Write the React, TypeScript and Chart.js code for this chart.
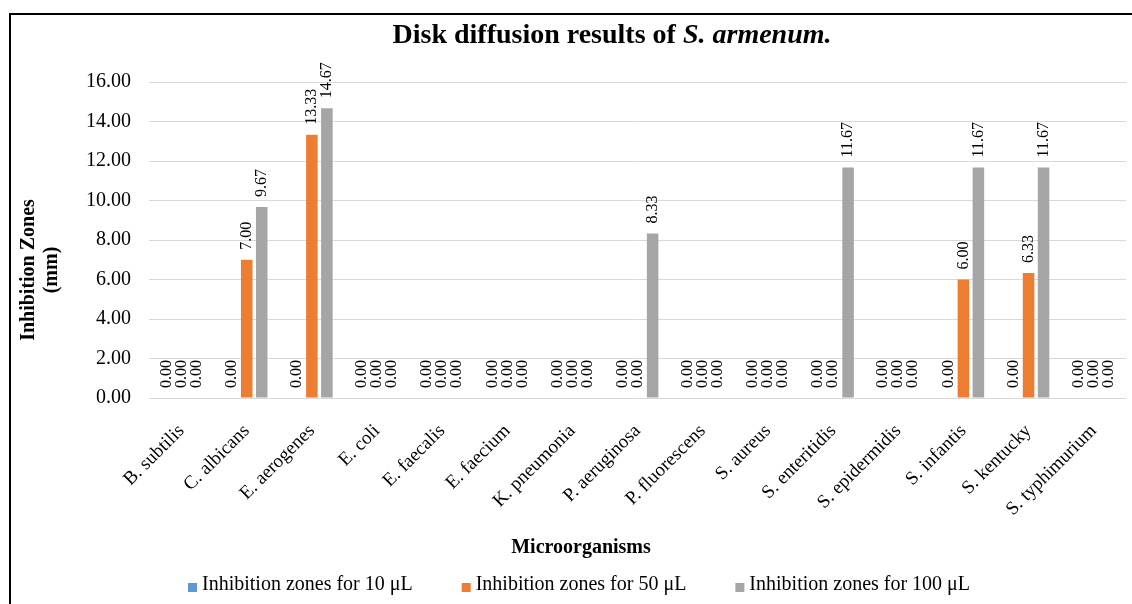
import React, { useEffect, useRef } from "react";
import { Chart, registerables } from "chart.js";

Chart.register(...registerables);

// Categories and series
const organisms = [
  "B. subtilis",
  "C. albicans",
  "E. aerogenes",
  "E. coli",
  "E. faecalis",
  "E. faecium",
  "K. pneumonia",
  "P. aeruginosa",
  "P. fluorescens",
  "S. aureus",
  "S. enteritidis",
  "S. epidermidis",
  "S. infantis",
  "S. kentucky",
  "S. typhimurium",
];
const zones10 = [0, 0, 0, 0, 0, 0, 0, 0, 0, 0, 0, 0, 0, 0, 0];
const zones50 = [0, 7.0, 13.33, 0, 0, 0, 0, 0, 0, 0, 0, 0, 6.0, 6.33, 0];
const zones100 = [0, 9.67, 14.67, 0, 0, 0, 0, 8.33, 0, 0, 11.67, 0, 11.67, 11.67, 0];

const seriesLabels = [
  "Inhibition zones for 10 μL",
  "Inhibition zones for 50 μL",
  "Inhibition zones for 100 μL",
];
const seriesColors = ["#5b9bd5", "#ed7d31", "#a5a5a5"];

const yMin = 0;
const yMax = 16;
const yStep = 2;

const titlePlain = "Disk diffusion results of ";
const titleItalic = "S. armenum.";
const yTitleLines = ["Inhibition Zones", "(mm)"];
const xTitle = "Microorganisms";

const SERIF = "'Liberation Serif', 'Times New Roman', serif";

// Rotated value labels above every bar
const valueLabelPlugin = {
  id: "valueLabels",
  afterDatasetsDraw(chart: any) {
    const ctx = chart.ctx;
    ctx.save();
    ctx.font = `16px ${SERIF}`;
    ctx.fillStyle = "#000";
    ctx.textAlign = "left";
    ctx.textBaseline = "middle";
    chart.data.datasets.forEach((ds: any, d: number) => {
      const meta = chart.getDatasetMeta(d);
      meta.data.forEach((bar: any, i: number) => {
        const v = ds.data[i] as number;
        ctx.save();
        ctx.translate(bar.x, bar.y - 10);
        ctx.rotate(-Math.PI / 2);
        ctx.fillText(v.toFixed(2), 0, 0);
        ctx.restore();
      });
    });
    ctx.restore();
  },
};

// Chart title (mixed roman / italic), axis titles and legend
const annotationsPlugin = {
  id: "annotations",
  afterDraw(chart: any) {
    const ctx = chart.ctx;
    ctx.save();
    ctx.fillStyle = "#000";

    // title
    const plainFont = `bold 28px ${SERIF}`;
    const italicFont = `italic bold 28px ${SERIF}`;
    ctx.font = plainFont;
    const w1 = ctx.measureText(titlePlain).width;
    ctx.font = italicFont;
    const w2 = ctx.measureText(titleItalic).width;
    const startX = 612 - (w1 + w2) / 2;
    ctx.textBaseline = "middle";
    ctx.textAlign = "left";
    ctx.font = plainFont;
    ctx.fillText(titlePlain, startX, 36);
    ctx.font = italicFont;
    ctx.fillText(titleItalic, startX + w1, 36);

    // y axis title
    ctx.font = `bold 20px ${SERIF}`;
    ctx.textAlign = "center";
    ctx.save();
    ctx.translate(29, 270);
    ctx.rotate(-Math.PI / 2);
    ctx.fillText(yTitleLines[0], 0, 0);
    ctx.fillText(yTitleLines[1], 0, 23);
    ctx.restore();

    // x axis title
    ctx.fillText(xTitle, 581, 548);

    // legend
    ctx.font = `20px ${SERIF}`;
    ctx.textAlign = "left";
    let x = 188;
    chart.data.datasets.forEach((ds: any) => {
      ctx.fillStyle = ds.backgroundColor;
      ctx.fillRect(x, 583, 9, 9);
      ctx.fillStyle = "#000";
      ctx.fillText(ds.label, x + 14, 585);
      x += 14 + ctx.measureText(ds.label).width + 49;
    });

    ctx.restore();
  },
};

export default function App() {
  const canvasRef = useRef<HTMLCanvasElement>(null);

  useEffect(() => {
    const canvas = canvasRef.current;
    if (!canvas) return;
    const series = [zones10, zones50, zones100];
    const chart = new Chart(canvas, {
      type: "bar",
      data: {
        labels: organisms,
        datasets: series.map((values, i) => ({
          label: seriesLabels[i],
          data: values,
          backgroundColor: seriesColors[i],
          borderWidth: 0,
          categoryPercentage: 0.69,
          barPercentage: 0.77,
        })),
      },
      options: {
        responsive: false,
        animation: false,
        devicePixelRatio: 1,
        layout: { padding: { top: 82, left: 0, right: 5, bottom: 56 } },
        plugins: {
          legend: { display: false },
          title: { display: false },
          tooltip: { enabled: false },
        },
        scales: {
          x: {
            grid: { display: false, drawTicks: false },
            border: { display: false },
            ticks: {
              autoSkip: false,
              maxRotation: 45,
              minRotation: 45,
              padding: 22,
              color: "#000",
              font: { family: SERIF, size: 19 },
            },
            afterFit(scale: any) {
              scale.height = 150;
            },
          },
          y: {
            min: yMin,
            max: yMax,
            grid: { color: "#d9d9d9", lineWidth: 1, drawTicks: false },
            border: { display: false },
            ticks: {
              stepSize: yStep,
              padding: 18,
              color: "#000",
              font: { family: SERIF, size: 20 },
              callback: (v: any) => Number(v).toFixed(2),
            },
            afterFit(scale: any) {
              scale.width = 149;
            },
          },
        },
      },
      plugins: [valueLabelPlugin, annotationsPlugin],
    });
    return () => chart.destroy();
  }, []);

  return (
    <div
      style={{
        position: "fixed",
        left: 0,
        top: 0,
        width: 1132,
        height: 604,
        overflow: "hidden",
        background: "#fff",
      }}
    >
      <div
        style={{
          position: "absolute",
          left: 9,
          top: 13,
          width: 1200,
          height: 700,
          border: "2px solid #000",
        }}
      />
      <canvas
        ref={canvasRef}
        width={1132}
        height={604}
        style={{ position: "absolute", left: 0, top: 0, display: "block" }}
      />
    </div>
  );
}
